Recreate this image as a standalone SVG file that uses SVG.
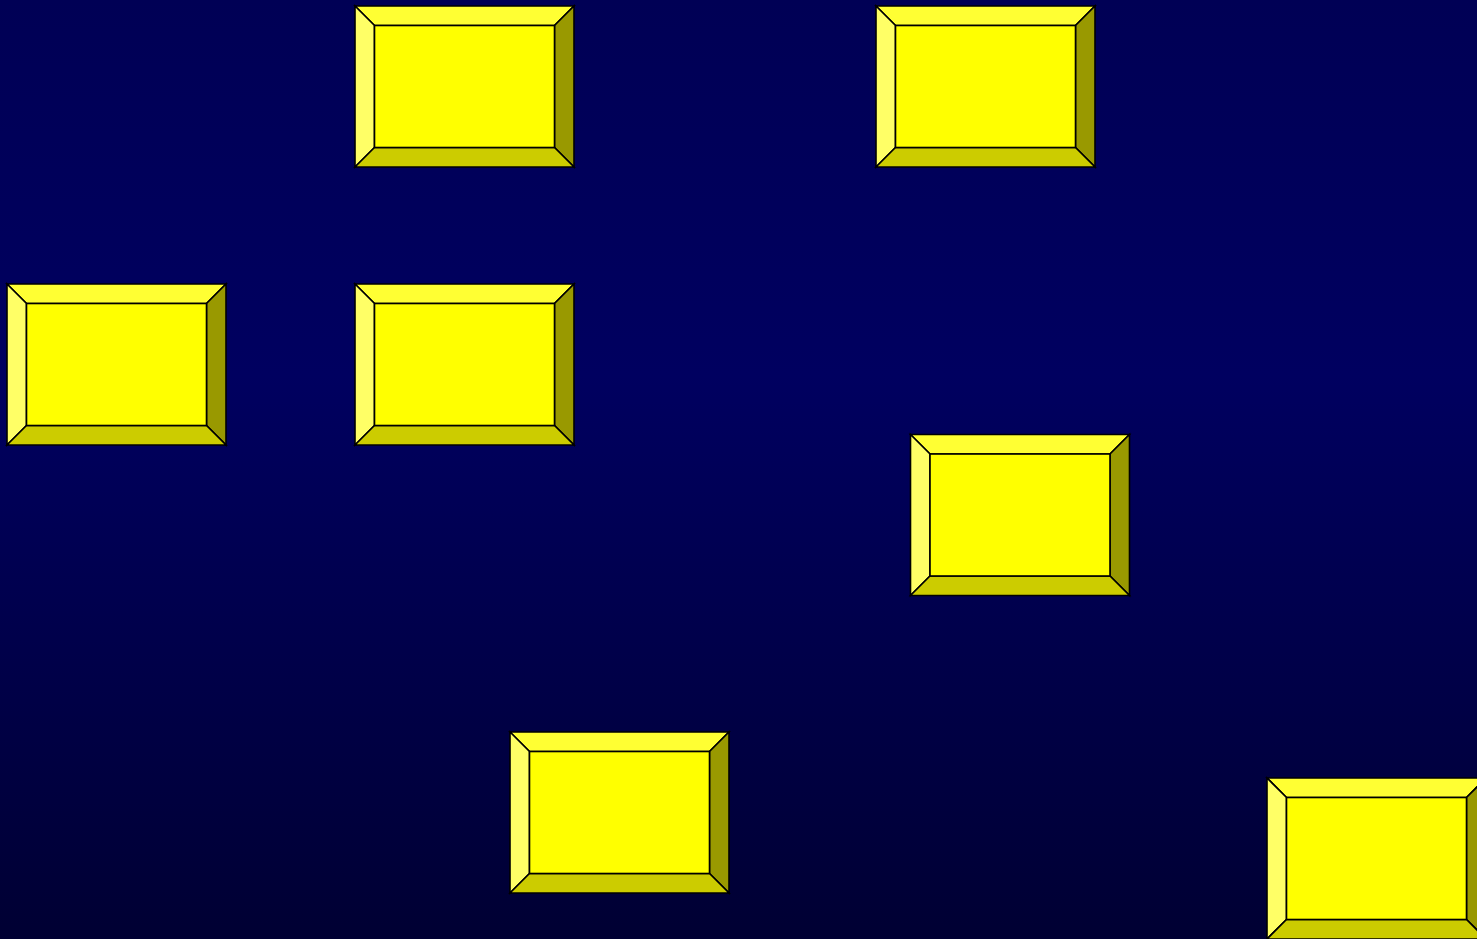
<svg xmlns="http://www.w3.org/2000/svg" xmlns:xlink="http://www.w3.org/1999/xlink" width="1477" height="939" viewBox="0 0 1477 939">
<defs>
<linearGradient id="bg" x1="0" y1="0" x2="0" y2="1">
<stop offset="0" stop-color="#000055"/>
<stop offset="0.4" stop-color="#000060"/>
<stop offset="1" stop-color="#000033"/>
</linearGradient>
<g id="box">
<polygon class="t" points="0,0 219,0 199.5,19.5 19.5,19.5"/>
<polygon class="l" points="0,0 19.5,19.5 19.5,141.5 0,161"/>
<polygon class="r" points="219,0 219,161 199.5,141.5 199.5,19.5"/>
<polygon class="b" points="0,161 19.5,141.5 199.5,141.5 219,161"/>
<rect class="c" x="19.5" y="19.5" width="180" height="122"/>
</g>
</defs>
<style>
polygon, rect.c { stroke:#000; stroke-width:1.6; stroke-linejoin:miter; }
.t { fill:#FFFF33; }
.l { fill:#FFFF66; }
.r { fill:#999900; }
.b { fill:#CCCC00; }
.c { fill:#FFFF00; }
</style>
<rect x="0" y="0" width="1477" height="939" fill="url(#bg)"/>
<g id="node1"><use xlink:href="#box" href="#box" x="355" y="6"/></g>
<g id="node2"><use xlink:href="#box" href="#box" x="876" y="6"/></g>
<g id="node3"><use xlink:href="#box" href="#box" x="7" y="284"/></g>
<g id="node4"><use xlink:href="#box" href="#box" x="355" y="284"/></g>
<g id="node5"><use xlink:href="#box" href="#box" x="910.5" y="434.5"/></g>
<g id="node6"><use xlink:href="#box" href="#box" x="510" y="732"/></g>
<g id="node7"><use xlink:href="#box" href="#box" x="1267" y="778"/></g>
<g id="connectors"></g>
</svg>
